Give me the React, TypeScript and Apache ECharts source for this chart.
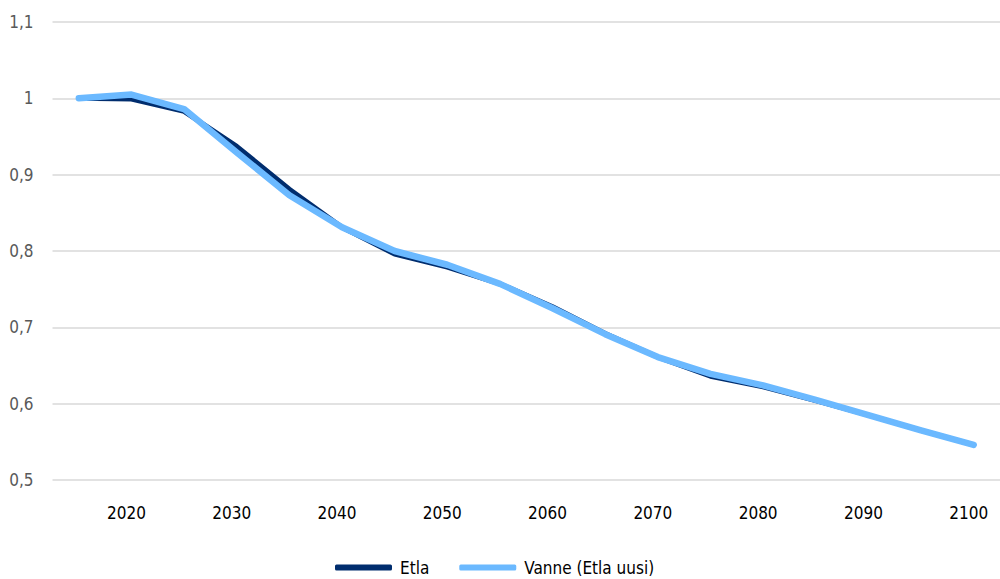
import React, { useEffect, useRef } from "react";
import * as echarts from "echarts";

const years = ["2015","2020","2025","2030","2035","2040","2045","2050","2055","2060","2065","2070","2075","2080","2085","2090","2095","2100"];
const etla = [1.0, 0.999, 0.983, 0.937, 0.881, 0.831, 0.796, 0.779, 0.757, 0.727, 0.692, 0.661, 0.636, 0.622, 0.604, 0.585, 0.565, 0.546];
const vanne = [1.0, 1.005, 0.986, 0.929, 0.873, 0.831, 0.800, 0.782, 0.757, 0.725, 0.691, 0.661, 0.639, 0.624, 0.605, 0.585, 0.565, 0.546];
const seriesNames = ["Etla", "Vanne (Etla uusi)"];

const FONT = "'DejaVu Sans Condensed', 'DejaVu Sans', sans-serif";

export default function App() {
  const ref = useRef<HTMLDivElement>(null);
  useEffect(() => {
    if (!ref.current) return;
    const chart = echarts.init(ref.current, undefined, { renderer: "svg" });
    chart.setOption({
      animation: false,
      backgroundColor: "#ffffff",
      grid: { left: 52.5, right: -8.5, top: 22, bottom: 99, containLabel: false },
      legend: {
        data: seriesNames,
        left: 330,
        top: 554,
        icon: "roundRect",
        itemWidth: 57,
        itemHeight: 6,
        itemGap: 30,
        textStyle: { fontFamily: FONT, fontSize: 17, color: "#000000", padding: [0, 0, 0, 3] },
      },
      xAxis: {
        type: "category",
        data: years,
        boundaryGap: true,
        axisLine: { show: false },
        axisTick: { show: false },
        splitLine: { show: false },
        axisLabel: {
          interval: (index: number) => index % 2 === 1,
          fontFamily: FONT,
          fontSize: 17,
          color: "#000000",
          margin: 24,
          padding: [0, 10, 0, 0],
        },
      },
      yAxis: {
        type: "value",
        min: 0.5,
        max: 1.1,
        interval: 0.1,
        axisLine: { show: false },
        axisTick: { show: false },
        splitLine: { show: true, lineStyle: { color: "#d9d9d9", width: 1.5 } },
        axisLabel: {
          fontFamily: FONT,
          fontSize: 17,
          color: "#595959",
          margin: 19,
          formatter: (v: number) => {
            const s = (Math.round(v * 10) / 10).toFixed(1).replace(".", ",");
            return s.endsWith(",0") ? s.slice(0, -2) : s;
          },
        },
      },
      series: [
        {
          name: seriesNames[0],
          type: "line",
          data: etla,
          showSymbol: false,
          symbol: "none",
          lineStyle: { color: "#002D6E", width: 5, cap: "round", join: "round" },
          itemStyle: { color: "#002D6E" },
        },
        {
          name: seriesNames[1],
          type: "line",
          data: vanne,
          showSymbol: false,
          symbol: "none",
          lineStyle: { color: "#6BB9FF", width: 6.5, cap: "round", join: "round" },
          itemStyle: { color: "#6BB9FF" },
        },
      ],
    });
    return () => chart.dispose();
  }, []);
  return <div ref={ref} style={{ width: 1000, height: 579, position: "absolute", left: 0, top: 0 }} />;
}
